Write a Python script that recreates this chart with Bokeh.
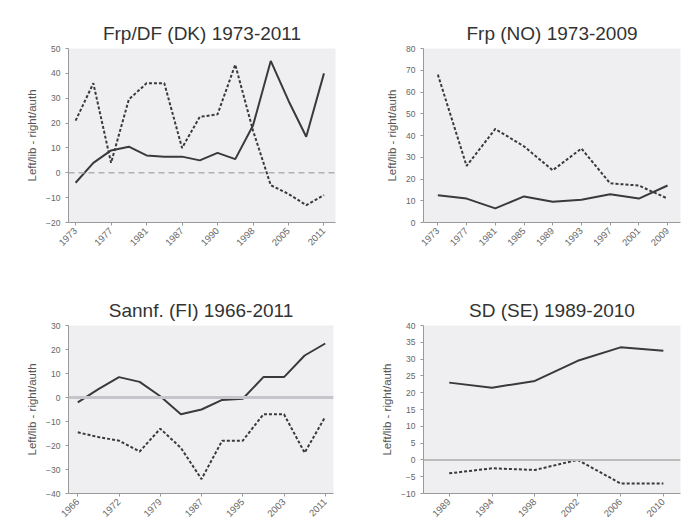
from math import pi
from bokeh.plotting import figure
from bokeh.layouts import column, row
from bokeh.models import FixedTicker, Span, Range1d, Title
from bokeh.embed import file_html
from bokeh.resources import INLINE

# ---- data ----
dk_title = "Frp/DF (DK) 1973-2011"
dk_years = ["1973", "1975", "1977", "1979", "1981", "1984", "1987", "1988",
            "1990", "1994", "1998", "2001", "2005", "2007", "2011"]
dk_solid = [-4, 4, 9, 10.5, 7, 6.5, 6.5, 5, 8, 5.5, 19, 45, 29, 14.5, 40]
dk_dashed = [21, 36, 4, 29.5, 36, 36, 10, 22.5, 23.5, 43.5, 17, -5, -8.5, -13, -9]

no_title = "Frp (NO) 1973-2009"
no_years = ["1973", "1977", "1981", "1985", "1989", "1993", "1997", "2001", "2009"]
no_solid = [12.5, 11, 6.5, 12, 9.5, 10.5, 13, 11, 17]
no_dashed = [68, 26, 43, 35, 24, 34, 18, 17, 11]

fi_title = "Sannf. (FI) 1966-2011"
fi_years = ["1966", "1970", "1972", "1975", "1979", "1983", "1987", "1991",
            "1995", "1999", "2003", "2007", "2011"]
fi_solid = [-2, 3.5, 8.5, 6.5, 0.5, -7, -5, -1, -0.5, 8.5, 8.5, 17.5, 22.5]
fi_dashed = [-14.5, -16.5, -18, -22.5, -13, -21, -34, -18, -18, -7, -7, -23, -8]

se_title = "SD (SE) 1989-2010"
se_years = ["1989", "1994", "1998", "2002", "2006", "2010"]
se_solid = [23, 21.5, 23.5, 29.5, 33.5, 32.5]
se_dashed = [-4, -2.5, -3, 0, -7, -7]

y_label = "Left/lib - right/auth"

LINE = "#3a3a3a"
FONT = "Liberation Sans"


def make(title, years, solid, dashed, y0, y1, ystep, every, w, h,
         mb_l, mb_r, mb_t, mb_b, pad_l, pad_r, spacer, zero=None):
    n = len(years)
    xs = list(range(n))
    p = figure(width=w, height=h, output_backend="svg", toolbar_location=None,
               x_range=Range1d(-pad_l, n - 1 + pad_r), y_range=Range1d(y0, y1))
    p.min_border_left = mb_l
    p.min_border_right = mb_r
    p.min_border_top = mb_t
    p.min_border_bottom = mb_b
    p.background_fill_color = "#efeff1"
    p.border_fill_color = "white"
    p.outline_line_color = None
    p.xgrid.visible = False
    p.ygrid.visible = False

    # spacer between frame and the real title
    p.title.text = " "
    p.title.text_font_size = spacer
    p.title.standoff = 0
    p.add_layout(Title(text=title, align="center", text_font=FONT,
                       text_font_size="19px", text_font_style="normal",
                       text_color="#333333"), "above")

    ticks = list(range(0, n, every))
    p.xaxis.ticker = FixedTicker(ticks=ticks)
    p.xaxis.major_label_overrides = {i: years[i] for i in ticks}
    p.xaxis.major_label_orientation = pi / 4
    p.xaxis.major_label_text_font_size = "9.5px"
    p.xaxis.major_label_text_font = FONT
    p.xaxis.major_label_text_color = "#666666"
    p.xaxis.major_label_standoff = 4
    p.xaxis.axis_line_color = "#999999"
    p.xaxis.major_tick_line_color = "#999999"
    p.xaxis.major_tick_out = 3
    p.xaxis.major_tick_in = 0
    p.xaxis.minor_tick_line_color = None

    yt = []
    v = y0
    while v <= y1 + 1e-9:
        yt.append(v)
        v += ystep
    p.yaxis.ticker = FixedTicker(ticks=yt)
    p.yaxis.major_label_text_font_size = "8.5px"
    p.yaxis.major_label_text_font = FONT
    p.yaxis.major_label_text_color = "#666666"
    p.yaxis.axis_line_color = "#999999"
    p.yaxis.major_tick_line_color = "#999999"
    p.yaxis.major_tick_out = 3
    p.yaxis.major_tick_in = 0
    p.yaxis.minor_tick_line_color = None
    p.yaxis.axis_label = y_label
    p.yaxis.axis_label_text_font = FONT
    p.yaxis.axis_label_text_font_size = "11.5px"
    p.yaxis.axis_label_text_font_style = "normal"
    p.yaxis.axis_label_text_color = "#555555"
    p.yaxis.axis_label_standoff = 5

    if zero is not None:
        p.add_layout(Span(location=0, dimension="width", **zero))

    p.line(xs, solid, line_color=LINE, line_width=2)
    p.line(xs, dashed, line_color=LINE, line_width=2, line_dash="3 2")
    return p


p1 = make(dk_title, dk_years, dk_solid, dk_dashed, -20, 50, 10, 2, 345, 265,
          68, 10, 48, 43, 0.4, 0.65, "10px",
          zero=dict(line_color="#b0b0b0", line_dash="6 4", line_width=1.5))
p2 = make(no_title, no_years, no_solid, no_dashed, 0, 80, 10, 1, 338, 265,
          78, 3, 48, 43, 0.5, 0.45, "10px")
p3 = make(fi_title, fi_years, fi_solid, fi_dashed, -40, 30, 10, 2, 345, 258,
          68, 12, 60, 30, 0.45, 0.4, "7px",
          zero=dict(line_color="#c4c6cc", line_width=3))
p4 = make(se_title, se_years, se_solid, se_dashed, -10, 40, 5, 1, 338, 258,
          78, 3, 60, 30, 0.6, 0.4, "7px",
          zero=dict(line_color="#bcbcbc", line_width=2))

layout = column(row(p1, p2), row(p3, p4))
open("out.html", "w").write(file_html(layout, INLINE))
